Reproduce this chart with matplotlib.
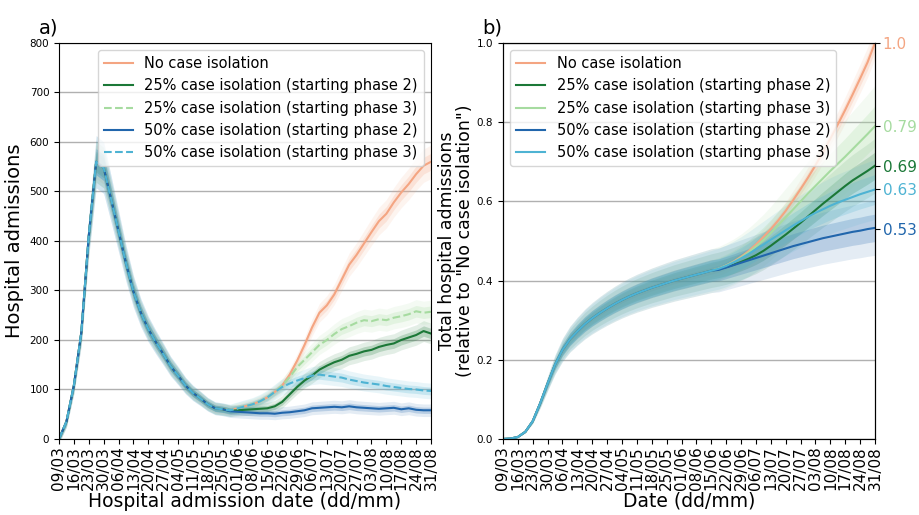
import matplotlib
matplotlib.use("Agg")
import matplotlib.pyplot as plt
import numpy as np

# half-week grid, 09/03 -> 31/08
days = np.arange(51) * 3.5
tick_days = np.arange(0, 176, 7)
date_labels = ["09/03", "16/03", "23/03", "30/03", "06/04", "13/04", "20/04",
               "27/04", "04/05", "11/05", "18/05", "25/05", "01/06", "08/06",
               "15/06", "22/06", "29/06", "06/07", "13/07", "20/07", "27/07",
               "03/08", "10/08", "17/08", "24/08", "31/08"]

labels = ["No case isolation",
          "25% case isolation (starting phase 2)",
          "25% case isolation (starting phase 3)",
          "50% case isolation (starting phase 2)",
          "50% case isolation (starting phase 3)"]
colors = ["#f4a582", "#1b7837", "#a6dba0", "#2166ac", "#4eb3d3"]
styles_a = ["-", "-", "--", "-", "--"]

# a) daily hospital admissions, common first wave (days 0 .. 73.5)
adm_shared = [0, 35, 108, 215, 410, 560, 548, 485, 420, 355, 298, 255, 222,
              196, 172, 147, 128, 108, 93, 82, 70, 62]
# scenario part (days 77 .. 175)
adm_none = [60, 58, 62, 66, 70, 76, 84, 95, 108, 130, 158, 190, 225, 255, 270,
            292, 322, 352, 372, 395, 418, 440, 455, 478, 498, 515, 535, 552, 560]
adm_25_p2 = [60, 57, 58, 59, 60, 61, 62, 66, 75, 90, 105, 118, 128, 140, 148,
             155, 160, 168, 172, 177, 180, 186, 190, 193, 200, 205, 210, 218, 213]
adm_25_p3 = [60, 58, 62, 66, 70, 76, 84, 95, 108, 125, 145, 160, 175, 190, 200,
             212, 222, 228, 235, 240, 238, 242, 240, 245, 248, 252, 258, 255, 257]
adm_50_p2 = [60, 56, 55, 54, 53, 52, 52, 51, 53, 54, 56, 58, 62, 63, 64,
             65, 64, 66, 64, 63, 62, 61, 62, 63, 60, 62, 59, 58, 58]
adm_50_p3 = [60, 58, 62, 66, 70, 76, 84, 95, 105, 112, 118, 123, 128, 130, 128,
             126, 124, 120, 117, 114, 112, 110, 107, 105, 103, 101, 100, 98, 97]

# b) cumulative admissions relative to "No case isolation", shared (days 0 .. 98)
cum_shared = [0.0, 0.001, 0.005, 0.018, 0.045, 0.09, 0.14, 0.188, 0.225, 0.252,
              0.272, 0.29, 0.305, 0.318, 0.33, 0.341, 0.351, 0.36, 0.368, 0.375,
              0.382, 0.388, 0.394, 0.4, 0.405, 0.41, 0.415, 0.42, 0.425]
# scenario part (days 101.5 .. 175)
cum_none = [0.43, 0.438, 0.448, 0.46, 0.474, 0.491, 0.51, 0.53, 0.552, 0.576,
            0.603, 0.631, 0.66, 0.691, 0.724, 0.758, 0.794, 0.831, 0.87, 0.91,
            0.951, 1.0]
cum_25_p2 = [0.429, 0.434, 0.44, 0.447, 0.455, 0.464, 0.475, 0.488, 0.502, 0.516,
             0.531, 0.546, 0.562, 0.578, 0.594, 0.609, 0.624, 0.639, 0.653, 0.665,
             0.677, 0.69]
cum_25_p3 = [0.43, 0.438, 0.447, 0.458, 0.471, 0.486, 0.502, 0.52, 0.54, 0.56,
             0.58, 0.6, 0.62, 0.639, 0.658, 0.677, 0.695, 0.713, 0.732, 0.751,
             0.77, 0.79]
cum_50_p2 = [0.427, 0.433, 0.439, 0.445, 0.451, 0.457, 0.463, 0.469, 0.475, 0.481,
             0.487, 0.492, 0.497, 0.502, 0.507, 0.511, 0.515, 0.519, 0.523, 0.526,
             0.53, 0.533]
cum_50_p3 = [0.43, 0.437, 0.446, 0.456, 0.467, 0.479, 0.491, 0.503, 0.515, 0.527,
             0.539, 0.55, 0.561, 0.571, 0.58, 0.589, 0.597, 0.604, 0.611, 0.618,
             0.624, 0.63]

final_labels = ["1.0", "0.79", "0.69", "0.63", "0.53"]
final_values = [1.0, 0.79, 0.69, 0.63, 0.53]
label_colors = ["#f4a582", "#a6dba0", "#1b7837", "#4eb3d3", "#2166ac"]

# band half widths (relative part, absolute part)
band_a = [(0.05, 6), (0.06, 8), (0.06, 8), (0.08, 8), (0.08, 8)]
band_b = [0.04, 0.10, 0.13, 0.13, 0.12]

series_a = [adm_shared + s for s in (adm_none, adm_25_p2, adm_25_p3, adm_50_p2, adm_50_p3)]
series_b = [cum_shared + s for s in (cum_none, cum_25_p2, cum_25_p3, cum_50_p2, cum_50_p3)]

fig = plt.figure(figsize=(9.19, 5.15), dpi=100)
ax1 = fig.add_axes([0.0642, 0.1476, 0.4048, 0.769])
ax2 = fig.add_axes([0.5473, 0.1476, 0.4048, 0.769])

for ax in (ax1, ax2):
    ax.yaxis.grid(True, color="#b0b0b0", lw=1)
    ax.set_axisbelow(True)
    ax.set_xlim(0, 175)
    ax.set_xticks(tick_days)
    ax.set_xticklabels(date_labels, rotation=90, fontsize=11)
    ax.tick_params(axis="x", pad=2)
    ax.tick_params(axis="y", labelsize=7.5)

# panel a
for vals, c, (rel, ab) in zip(series_a, colors, band_a):
    v = np.array(vals, dtype=float)
    w = rel * v + ab
    ax1.fill_between(days, v - w, v + w, color=c, alpha=0.12, lw=0)
    ax1.fill_between(days, v - w / 2, v + w / 2, color=c, alpha=0.22, lw=0)
for vals, c, ls, lab in zip(series_a, colors, styles_a, labels):
    ax1.plot(days, vals, color=c, ls=ls, lw=1.5, label=lab)
ax1.set_ylim(0, 800)
ax1.set_yticks(np.arange(0, 801, 100))
ax1.set_ylabel("Hospital admissions", fontsize=14, labelpad=4)
ax1.set_xlabel("Hospital admission date (dd/mm)", fontsize=13.5, labelpad=1)
ax1.legend(loc="upper right", fontsize=10.5)
ax1.text(-0.055, 1.015, "a)", transform=ax1.transAxes, fontsize=14, va="bottom")

# panel b
for vals, rel, c in zip(series_b, band_b, colors):
    v = np.array(vals, dtype=float)
    ax2.fill_between(days, v * (1 - rel), v * (1 + rel), color=c, alpha=0.12, lw=0)
    ax2.fill_between(days, v * (1 - rel / 2), v * (1 + rel / 2), color=c, alpha=0.22, lw=0)
for vals, c, lab in zip(series_b, colors, labels):
    ax2.plot(days, vals, color=c, lw=1.5, label=lab)
ax2.set_ylim(0, 1.0)
ax2.set_yticks(np.arange(0, 1.01, 0.2))
ax2.set_yticklabels(["%.1f" % t for t in np.arange(0, 1.01, 0.2)])
ax2.set_ylabel('Total hospital admissions\n(relative to "No case isolation")',
               fontsize=12.5, labelpad=2, linespacing=1.0)
ax2.set_xlabel("Date (dd/mm)", fontsize=13.5, labelpad=1)
ax2.legend(loc="upper left", fontsize=10.5)
ax2.text(-0.055, 1.015, "b)", transform=ax2.transAxes, fontsize=14, va="bottom")

ax3 = ax2.twinx()
ax3.set_ylim(0, 1.0)
ax3.set_yticks(final_values)
ax3.set_yticklabels(final_labels, fontsize=11)
ax3.tick_params(axis="y", pad=2)
for t, c in zip(ax3.get_yticklabels(), label_colors):
    t.set_color(c)

fig.savefig("out.png", dpi=100)
